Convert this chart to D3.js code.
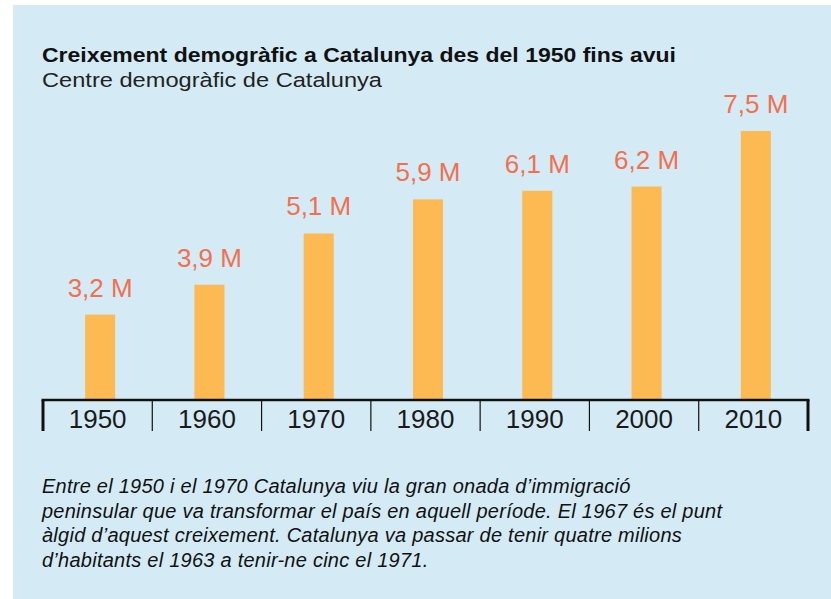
<!DOCTYPE html>
<html>
  <head>
    <meta charset="utf-8">
    <title>Creixement demogràfic a Catalunya</title>
    <script src="https://cdn.jsdelivr.net/npm/d3@7"></script>
    <style>
      body { margin: 0; background: #fff; }
      svg { display: block; font-family: "Liberation Sans", Arial, sans-serif; }
    </style>
  </head>
  <body>
    <svg id="chart" width="831" height="599"></svg>

    <script>
      // data
      const years = ["1950", "1960", "1970", "1980", "1990", "2000", "2010"];
      const population = [3.2, 3.9, 5.1, 5.9, 6.1, 6.2, 7.5];
      const labels = ["3,2 M", "3,9 M", "5,1 M", "5,9 M", "6,1 M", "6,2 M", "7,5 M"];
      const title = "Creixement demogràfic a Catalunya des del 1950 fins avui";
      const subtitle = "Centre demogràfic de Catalunya";
      const note = [
        "Entre el 1950 i el 1970 Catalunya viu la gran onada d’immigració",
        "peninsular que va transformar el país en aquell període. El 1967 és el punt",
        "àlgid d’aquest creixement. Catalunya va passar de tenir quatre milions",
        "d’habitants el 1963 a tenir-ne cinc el 1971."
      ];

      // elements
      const chart = d3.select("#chart");
      const baseline = 400;

      chart.append("rect")
        .attr("x", 13).attr("y", 5)
        .attr("width", 831 - 13).attr("height", 599 - 5)
        .style("fill", "#d4ebf5");

      // header
      chart.append("text")
        .attr("x", 42).attr("y", 62)
        .attr("textLength", 634).attr("lengthAdjust", "spacingAndGlyphs")
        .style("font-size", "20.5px").style("font-weight", "bold")
        .style("fill", "#111")
        .text(title);
      chart.append("text")
        .attr("x", 42).attr("y", 87)
        .attr("textLength", 340).attr("lengthAdjust", "spacingAndGlyphs")
        .style("font-size", "20.5px")
        .style("fill", "#222")
        .text(subtitle);

      // scales
      const x = d3.scaleBand().domain(years).range([43, 808]);
      const xBar = x.copy().range([45.5, 810.5]).paddingInner(0.725).paddingOuter(0.3625);
      const y = d3.scaleLinear().domain([1.2, 7.5]).range([baseline, 131]);

      // bars
      chart.append("g").selectAll(".bar")
          .data(years)
        .enter().append("rect")
          .classed("bar", true)
          .attr("x", function(d) { return xBar(d); })
          .attr("width", xBar.bandwidth())
          .attr("y", function(d, i) { return y(population[i]); })
          .attr("height", function(d, i) { return baseline - y(population[i]); })
          .style("fill", "#fdba53");

      // value labels
      chart.append("g").selectAll(".label")
          .data(years)
        .enter().append("text")
          .classed("label", true)
          .attr("x", function(d) { return xBar(d) + xBar.bandwidth() / 2; })
          .attr("y", function(d, i) { return y(population[i]) - 18; })
          .attr("text-anchor", "middle")
          .style("font-size", "26px")
          .style("fill", "#f2704f")
          .text(function(d, i) { return labels[i]; });

      // axis
      const axis = chart.append("g");
      const edges = years.map(function(d) { return x(d); }).concat([x.range()[1]]);
      axis.append("line")
        .attr("x1", x.range()[0] - 1.5).attr("x2", x.range()[1] + 1.5)
        .attr("y1", baseline).attr("y2", baseline)
        .style("stroke", "#111").style("stroke-width", 2.5);
      axis.selectAll(".tick")
          .data(edges)
        .enter().append("line")
          .classed("tick", true)
          .attr("x1", function(d) { return d; }).attr("x2", function(d) { return d; })
          .attr("y1", baseline).attr("y2", 431)
          .style("stroke", "#111")
          .style("stroke-width", function(d, i) { return i === 0 || i === edges.length - 1 ? 3 : 1.2; });
      axis.selectAll(".year")
          .data(years)
        .enter().append("text")
          .classed("year", true)
          .attr("x", function(d) { return x(d) + x.bandwidth() / 2; })
          .attr("y", 428)
          .attr("text-anchor", "middle")
          .style("font-size", "26px")
          .style("fill", "#1a1a1a")
          .text(function(d) { return d; });

      // note
      chart.append("g").selectAll(".note")
          .data(note)
        .enter().append("text")
          .classed("note", true)
          .attr("x", 42)
          .attr("y", function(d, i) { return 493 + i * 24.5; })
          .style("font-size", "20px")
          .style("letter-spacing", "0.25px")
          .style("font-style", "italic")
          .style("fill", "#111")
          .text(function(d) { return d; });
    </script>
  </body>
</html>
